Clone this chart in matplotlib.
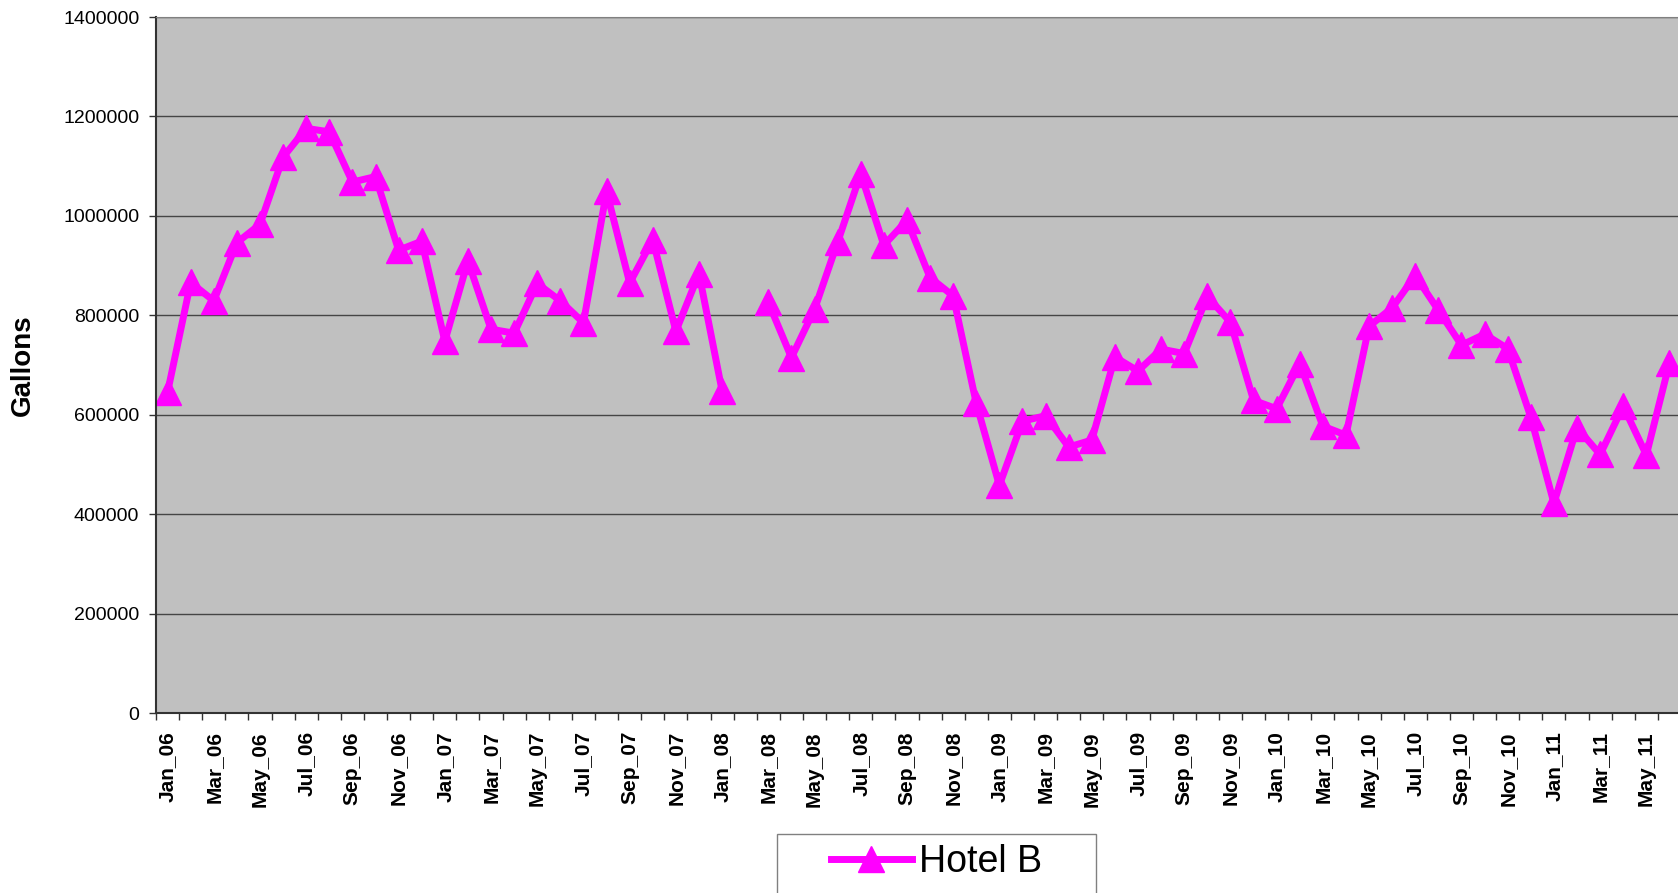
import matplotlib
matplotlib.use('Agg')
import matplotlib.pyplot as plt
from matplotlib.patches import Rectangle
import numpy as np

plt.rcParams['font.family'] = ['Liberation Sans', 'DejaVu Sans']

# monthly water use, Hotel B (Feb_08 missing)
months = ['Jan_06', 'Feb_06', 'Mar_06', 'Apr_06', 'May_06', 'Jun_06',
          'Jul_06', 'Aug_06', 'Sep_06', 'Oct_06', 'Nov_06', 'Dec_06',
          'Jan_07', 'Feb_07', 'Mar_07', 'Apr_07', 'May_07', 'Jun_07',
          'Jul_07', 'Aug_07', 'Sep_07', 'Oct_07', 'Nov_07', 'Dec_07',
          'Jan_08', 'Feb_08', 'Mar_08', 'Apr_08', 'May_08', 'Jun_08',
          'Jul_08', 'Aug_08', 'Sep_08', 'Oct_08', 'Nov_08', 'Dec_08',
          'Jan_09', 'Feb_09', 'Mar_09', 'Apr_09', 'May_09', 'Jun_09',
          'Jul_09', 'Aug_09', 'Sep_09', 'Oct_09', 'Nov_09', 'Dec_09',
          'Jan_10', 'Feb_10', 'Mar_10', 'Apr_10', 'May_10', 'Jun_10',
          'Jul_10', 'Aug_10', 'Sep_10', 'Oct_10', 'Nov_10', 'Dec_10',
          'Jan_11', 'Feb_11', 'Mar_11', 'Apr_11', 'May_11', 'Jun_11']

hotel_b = [645000, 866000, 829000, 946000, 983000, 1118000,
           1176000, 1169000, 1068000, 1079000, 931000, 949000,
           748000, 909000, 772000, 764000, 864000, 829000,
           785000, 1049000, 865000, 952000, 768000, 884000,
           648000, None, 826000, 715000, 812000, 947000,
           1085000, 941000, 991000, 876000, 839000, 623000,
           458000, 587000, 598000, 535000, 549000, 716000,
           688000, 732000, 723000, 838000, 786000, 629000,
           612000, 703000, 577000, 559000, 778000, 815000,
           880000, 810000, 740000, 762000, 733000, 595000,
           422000, 574000, 520000, 617000, 519000, 704000]

y_ticks = [0, 200000, 400000, 600000, 800000, 1000000, 1200000, 1400000]

W, H = 1678, 893
fig = plt.figure(figsize=(W / 100, H / 100), dpi=100)
ax = fig.add_axes([156 / W, 180 / H, 1525 / W, 696 / H])
ax.set_facecolor('#C0C0C0')

x = np.arange(len(months))
y = np.array([np.nan if v is None else v for v in hotel_b], dtype=float)
line, = ax.plot(x, y, color='#FF00FF', lw=5, marker='^', ms=19,
                mec='#FF00FF', mfc='#FF00FF', label='Hotel B')

ax.set_xlim(-0.5, len(months) - 0.5)
ax.set_ylim(0, 1400000)

# y axis
ax.set_yticks(y_ticks)
ax.set_yticklabels([str(t) for t in y_ticks], fontsize=14)
ax.tick_params(axis='y', length=5, width=1, color='#333333', pad=7)
ax.yaxis.grid(True, color='#454545', lw=1)
ax.set_axisbelow(True)

# x axis: labels every other month, ticks between categories
ax.set_xticks(x[::2])
ax.set_xticklabels(months[::2], rotation=90, fontsize=15, fontweight='bold')
ax.tick_params(axis='x', which='major', length=0, pad=13)
ax.set_xticks(np.arange(-0.5, len(months), 1), minor=True)
ax.tick_params(axis='x', which='minor', length=5, width=1, color='#333333')

for s in ['left', 'bottom']:
    ax.spines[s].set_color('#333333')
    ax.spines[s].set_linewidth(1.5)
ax.spines['top'].set_color('#808080')
ax.spines['right'].set_visible(False)

fig.text(23 / W, 1 - 365 / H, 'Gallons', rotation=90, fontsize=20,
         fontweight='bold', ha='center', va='center')

# legend
fig.legend(handles=[line], loc='center left',
           bbox_to_anchor=(831 / W, 1 - 862 / H), frameon=False,
           fontsize=27, handlelength=2.15, handletextpad=0.2,
           borderpad=0, borderaxespad=0)
fig.add_artist(Rectangle((777 / W, -0.05), (1096 - 777) / W,
                         (893 - 834) / H + 0.05, transform=fig.transFigure,
                         fill=False, ec='#808080', lw=1))

plt.savefig('out.png', dpi=100)
